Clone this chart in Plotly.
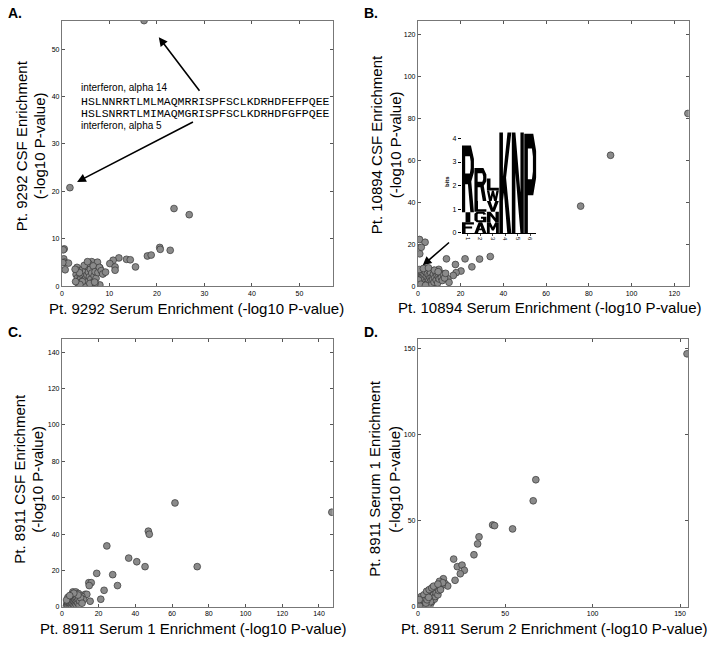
import plotly.graph_objects as go

W, H = 714, 646

# ---------------- data ----------------
# Panel A: Pt. 9292 serum vs CSF
a_serum = [17.3, 1.7, 23.6, 26.8, 20.6, 20.7, 22.8, 0.5, 0.3, 18.0, 18.8, 12.0, 13.6, 14.4, 10.8,
           15.5, 10.1, 11.2, 11.2, 0.4, 0.6, 1.4, 0.7, 6.3, 7.5, 8.0, 8.7, 8.0, 7.0, 0.2,
           3.2, 3.5, 3.0, 3.3, 3.6, 3.4, 3.9, 4.0, 4.2, 4.1, 4.4, 4.5, 4.6, 4.8, 4.9, 5.0,
           5.1, 5.2, 5.3, 5.5, 5.6, 5.7, 5.8, 6.0, 6.1, 6.3, 6.5, 6.6, 6.8, 7.0, 7.2, 7.6,
           7.9, 8.3, 8.6, 3.7, 4.3, 3.8, 5.9, 6.9, 4.7, 5.4, 2.8, 2.9, 9.2]
a_csf = [56.0, 20.8, 16.4, 15.1, 8.2, 7.8, 7.6, 7.9, 7.7, 6.4, 6.6, 6.0, 5.7, 5.6, 5.5,
         4.1, 4.8, 4.1, 3.4, 5.8, 5.1, 4.9, 3.5, 5.2, 5.1, 3.9, 2.7, 0.3, 0.6, 5.0,
         4.0, 3.3, 2.5, 1.8, 1.2, 0.6, 2.2, 1.6, 2.8, 0.9, 3.6, 2.0, 1.3, 2.6, 0.5, 3.2,
         1.8, 4.2, 2.4, 1.1, 3.0, 4.8, 2.0, 3.6, 1.5, 2.8, 0.8, 4.3, 2.2, 3.1, 1.7, 2.9,
         4.0, 3.3, 2.6, 2.9, 1.0, 0.4, 0.6, 0.9, 4.4, 5.2, 3.6, 1.0, 3.0]

# Panel B: Pt. 10894 serum vs CSF
b_serum = [126.4, 90.2, 76.2, 0.8, 3.4, 1.6, 0.9, 13.4, 22.1, 28.9, 33.9, 17.6, 25.3, 20.2,
           17.9, 16.6, 14.0, 14.6, 4.4, 9.8, 7.5, 11.7,
           0.5, 0.8, 1.0, 1.2, 1.5, 1.8, 2.0, 2.2, 2.5, 2.8, 3.0, 3.2, 3.5, 3.8, 4.0, 4.3,
           4.5, 4.8, 5.0, 5.3, 5.5, 5.8, 6.0, 6.3, 6.5, 6.8, 7.0, 7.3, 7.6, 8.0, 8.3, 8.6,
           9.0, 9.3, 9.6, 10.0, 10.5, 11.0, 11.5, 12.0, 12.5, 13.0, 0.3, 0.6, 2.6, 1.4, 3.6,
           5.0, 7.8, 9.5]
b_csf = [82.3, 62.4, 38.2, 22.3, 21.0, 18.6, 15.5, 13.1, 13.1, 13.0, 14.2, 10.4, 9.3, 7.3,
         6.5, 5.2, 3.6, 1.9, 8.4, 8.1, 7.6, 6.0,
         5.5, 4.2, 6.8, 3.5, 7.5, 5.0, 2.8, 6.2, 4.5, 1.8, 5.8, 3.2, 7.0, 2.2, 4.8, 1.2,
         6.0, 3.6, 2.5, 5.4, 1.5, 4.0, 6.5, 2.9, 0.8, 4.6, 3.3, 5.8, 2.0, 4.2, 6.8, 3.0,
         5.2, 1.6, 4.5, 3.5, 5.8, 4.2, 2.8, 5.5, 4.0, 6.2, 3.0, 8.0, 8.5, 1.0, 0.5,
         8.8, 7.7, 7.0]

# Panel C: Pt. 8911 serum 1 vs CSF
c_serum = [147.0, 61.6, 47.1, 47.6, 36.4, 40.8, 45.3, 73.7, 24.5, 19.0, 27.7, 23.0, 30.3,
           14.7, 16.0, 14.9, 21.2, 15.4, 12.7, 13.6, 10.9, 11.8, 6.0, 7.6, 9.1,
           2.5, 2.8, 3.0, 3.2, 3.5, 3.7, 4.0, 4.2, 4.4, 4.6, 4.8, 5.0, 5.2, 5.4, 5.6, 5.8,
           6.0, 6.2, 6.4, 6.6, 6.8, 7.0, 7.2, 7.4, 7.6, 7.8, 8.0, 8.3, 8.6, 9.0, 9.4, 9.8,
           10.2, 3.3, 5.5, 8.8, 2.6, 11.0, 6.5, 4.3]
c_csf = [52.0, 57.1, 41.6, 39.9, 26.8, 24.8, 22.1, 22.1, 33.5, 18.4, 17.7, 9.1, 11.7,
         13.3, 13.3, 11.7, 4.2, 3.1, 6.9, 6.9, 5.8, 4.0, 8.2, 8.2, 7.3,
         0.5, 1.5, 2.5, 0.8, 3.2, 1.8, 4.0, 0.3, 2.2, 5.0, 1.2, 3.0, 4.4, 0.6, 2.0, 5.8,
         3.5, 1.4, 4.8, 2.6, 0.9, 3.8, 6.0, 2.0, 4.6, 1.2, 3.0, 5.2, 2.2, 4.0, 1.0, 3.2,
         5.0, 5.2, 6.8, 6.5, 3.8, 2.0, 7.5, 6.2]

# Panel D: Pt. 8911 serum 2 vs serum 1
d_serum2 = [154.0, 67.5, 66.0, 42.8, 43.9, 54.2, 35.0, 34.2, 32.1, 20.5, 22.6, 25.3, 26.6,
            24.3, 21.3, 14.6, 12.4, 15.6, 17.1, 13.9,
            1.0, 1.5, 2.0, 2.5, 3.0, 3.0, 3.5, 4.0, 4.0, 4.5, 5.0, 5.0, 5.5, 6.0, 6.0, 6.5,
            7.0, 7.0, 7.5, 8.0, 8.0, 8.5, 9.0, 9.5, 10.0, 10.0, 10.5, 11.0, 11.5, 12.0, 12.5,
            13.0, 2.0, 3.5, 5.0, 6.5, 8.0, 9.0, 4.2, 5.8, 2.8, 7.2, 1.0, 3.8, 4.6, 5.3, 6.2,
            0.8, 14.2, 11.5]
d_serum1 = [146.7, 73.7, 61.5, 47.5, 47.1, 45.2, 40.6, 36.5, 30.2, 27.7, 23.3, 24.2, 21.2,
            19.2, 15.4, 16.3, 14.8, 13.5, 12.1, 12.5,
            3.0, 2.0, 4.0, 1.0, 3.0, 5.5, 2.0, 4.0, 0.5, 6.0, 3.0, 1.5, 5.0, 7.0, 2.5, 4.0,
            6.0, 1.0, 8.0, 5.0, 3.0, 9.0, 7.0, 4.5, 10.0, 6.0, 8.0, 11.0, 7.0, 9.5, 11.5,
            10.0, 6.0, 7.0, 9.0, 10.0, 11.0, 12.0, 1.2, 0.8, 0.3, 3.0, 0.5, 3.6, 2.2, 4.1, 5.5,
            4.2, 14.0, 13.2]

# Sequence logo (inset of panel B): letters bottom->top and their heights in bits
logo_positions = [1, 2, 3, 4, 5, 6]
logo_letters = [["F", "I", "R"], ["A", "G", "L", "R"], ["M", "N", "V", "W", "L"],
                ["K"], ["N"], ["P"]]
logo_bits = [[0.45, 0.42, 2.83], [0.45, 0.45, 0.45, 1.40], [0.45, 0.45, 0.45, 0.45, 0.50],
             [4.25], [4.25], [4.20]]

seq_alpha14 = "HSLNNRRTLMLMAQMRRISPFSCLKDRHDFEFPQEE"
seq_alpha5 = "HSLSNRRTLMIMAQMGRISPFSCLKDRHDFGFPQEE"

# ---------------- layout helpers ----------------
def px(x):
    return x / W


def py(y):
    return 1 - y / H


panels = [
    dict(x=a_serum, y=a_csf, dom_x=(60, 331.7), dom_y=(20.7, 287.7), rx=57.0, ry=56.0,
         dt=10, letter="A.", lx=4, ly=13,
         xt="Pt. 9292 Serum Enrichment (-log10 P-value)", xtx=195, xty=310,
         yt="Pt. 9292 CSF Enrichment", ytx1=19, ytx2=37, yty=146),
    dict(x=b_serum, y=b_csf, dom_x=(417, 688.7), dom_y=(20.7, 287.7), rx=126.8, ry=126.5,
         dt=20, letter="B.", lx=361, ly=13,
         xt="Pt. 10894 Serum Enrichment (-log10 P-value)", xtx=549, xty=309,
         yt="Pt. 10894 CSF Enrichment", ytx1=375, ytx2=394, yty=145),
    dict(x=c_serum, y=c_csf, dom_x=(60, 331.7), dom_y=(340.9, 609.7), rx=147.5, ry=147.0,
         dt=20, letter="C.", lx=4, ly=334,
         xt="Pt. 8911 Serum 1 Enrichment (-log10 P-value)", xtx=192, xty=631,
         yt="Pt. 8911 CSF Enrichment", ytx1=18, ytx2=36, yty=481),
    dict(x=d_serum2, y=d_serum1, dom_x=(417, 688.0), dom_y=(340.2, 609.7), rx=154.6, ry=155.5,
         dt=50, letter="D.", lx=361, ly=334,
         xt="Pt. 8911 Serum 2 Enrichment (-log10 P-value)", xtx=554, xty=631,
         yt="Pt. 8911 Serum 1 Enrichment", ytx1=374, ytx2=394, yty=481),
]

fig = go.Figure()
layout = dict(width=W, height=H, margin=dict(l=0, r=0, t=0, b=0),
              paper_bgcolor="white", plot_bgcolor="white", showlegend=False,
              font=dict(family="Liberation Sans, Arial, sans-serif", color="black"))
annotations = []
shapes = []

FONT = "Liberation Sans, Arial, sans-serif"
MONO = "Liberation Mono, Courier New, monospace"

for i, p in enumerate(panels):
    n = i + 1
    xa = "x" if n == 1 else f"x{n}"
    ya = "y" if n == 1 else f"y{n}"
    fig.add_trace(go.Scatter(
        x=p["x"], y=p["y"], mode="markers", xaxis=xa, yaxis=ya,
        marker=dict(size=6.8, color="rgb(138,138,138)",
                    line=dict(color="rgb(55,55,55)", width=0.7)),
        hoverinfo="x+y"))
    axcommon = dict(showgrid=False, zeroline=False, showline=True, linecolor="#777",
                    linewidth=1, mirror="ticks", ticks="inside", ticklen=3,
                    tickcolor="#555", tickwidth=1,
                    tickfont=dict(size=7, family=FONT, color="black"))
    layout["xaxis" if n == 1 else f"xaxis{n}"] = dict(
        axcommon, domain=[px(p["dom_x"][0]), px(p["dom_x"][1])], range=[0, p["rx"]],
        anchor=ya, dtick=p["dt"], tick0=0)
    layout["yaxis" if n == 1 else f"yaxis{n}"] = dict(
        axcommon, domain=[py(p["dom_y"][1]), py(p["dom_y"][0])], range=[0, p["ry"]],
        anchor=xa, dtick=p["dt"], tick0=0)
    annotations.append(dict(text="<b>" + p["letter"] + "</b>", x=px(p["lx"]), y=py(p["ly"]),
                            xref="paper", yref="paper", xanchor="left", yanchor="middle",
                            showarrow=False, font=dict(size=14, family=FONT)))
    annotations.append(dict(text=p["xt"], x=px(p["xtx"]), y=py(p["xty"]),
                            xref="paper", yref="paper", xanchor="center", yanchor="middle",
                            showarrow=False, font=dict(size=15, family=FONT)))
    annotations.append(dict(text=p["yt"], x=px(p["ytx1"]), y=py(p["yty"]), textangle=-90,
                            xref="paper", yref="paper", xanchor="center", yanchor="middle",
                            showarrow=False, font=dict(size=15, family=FONT)))
    annotations.append(dict(text="(-log10 P-value)", x=px(p["ytx2"]), y=py(p["yty"]),
                            textangle=-90, xref="paper", yref="paper", xanchor="center",
                            yanchor="middle", showarrow=False, font=dict(size=15, family=FONT)))

# Panel A annotation texts
txt_left = px(78.5)
for t, yy, fam, sz in [("interferon, alpha 14", 88.3, FONT, 10),
                       (seq_alpha14, 102.0, MONO, 11.5),
                       (seq_alpha5, 113.6, MONO, 11.5),
                       ("interferon, alpha 5", 125.9, FONT, 10)]:
    annotations.append(dict(text=t, x=txt_left, y=py(yy), xref="paper", yref="paper",
                            xanchor="left", yanchor="middle", showarrow=False, borderpad=0,
                            font=dict(size=sz, family=fam, color="black")))

# Arrows in panel A (tail near the text, head near the highlighted points)
for tip, tail in [((20.4, 52.5), (29.2, 40.9)), ((3.2, 22.0), (27.9, 34.8))]:
    annotations.append(dict(text="", x=tip[0], y=tip[1], ax=tail[0], ay=tail[1],
                            xref="x", yref="y", axref="x", ayref="y", showarrow=True,
                            arrowhead=2, arrowsize=1.1, arrowwidth=1.6, arrowcolor="black"))
# Arrow in panel B pointing at the cluster
annotations.append(dict(text="", x=2.3, y=10.0, ax=15.3, ay=21.5, xref="x2", yref="y2",
                        axref="x2", ayref="y2", showarrow=True, arrowhead=2, arrowsize=1.1,
                        arrowwidth=1.6, arrowcolor="black"))

# ---------------- sequence logo inset ----------------
GLYPHS = {
    "R": ["M0,0 L0,1 L0.75,1 L1,0.8 L1,0.6 L0.78,0.46 L1,0 L0.7,0 L0.5,0.42 L0.27,0.42 L0.27,0 Z",
          "M0.27,0.58 L0.27,0.84 L0.66,0.84 L0.73,0.76 L0.73,0.66 L0.66,0.58 Z"],
    "K": ["M0,0 L0,1 L0.3,1 L0.3,0.56 L0.68,1 L1,1 L0.56,0.55 L1,0 L0.66,0 L0.38,0.4 L0.3,0.32 L0.3,0 Z"],
    "N": ["M0,0 L0,1 L0.3,1 L0.72,0.4 L0.72,1 L1,1 L1,0 L0.72,0 L0.3,0.6 L0.3,0 Z"],
    "P": ["M0,0 L0,1 L0.75,1 L1,0.82 L1,0.56 L0.75,0.38 L0.3,0.38 L0.3,0 Z",
          "M0.3,0.54 L0.3,0.85 L0.64,0.85 L0.72,0.77 L0.72,0.62 L0.64,0.54 Z"],
    "F": ["M0,0 L0,1 L1,1 L1,0.8 L0.3,0.8 L0.3,0.6 L0.85,0.6 L0.85,0.42 L0.3,0.42 L0.3,0 Z"],
    "L": ["M0,0 L0,1 L0.3,1 L0.3,0.22 L1,0.22 L1,0 Z"],
    "I": ["M0.3,0 L0.3,1 L0.7,1 L0.7,0 Z"],
    "A": ["M0,0 L0.35,1 L0.65,1 L1,0 L0.7,0 L0.62,0.24 L0.38,0.24 L0.3,0 Z",
          "M0.43,0.42 L0.57,0.42 L0.5,0.66 Z"],
    "M": ["M0,0 L0,1 L0.3,1 L0.5,0.55 L0.7,1 L1,1 L1,0 L0.76,0 L0.76,0.6 L0.58,0.22 L0.42,0.22 L0.24,0.6 L0.24,0 Z"],
    "V": ["M0,1 L0.3,1 L0.5,0.35 L0.7,1 L1,1 L0.65,0 L0.35,0 Z"],
    "W": ["M0,1 L0.2,1 L0.3,0.4 L0.42,1 L0.58,1 L0.7,0.4 L0.8,1 L1,1 L0.82,0 L0.6,0 L0.5,0.5 L0.4,0 L0.18,0 Z"],
    "G": ["M1,0.75 L0.8,1 L0.2,1 L0,0.8 L0,0.2 L0.2,0 L1,0 L1,0.52 L0.55,0.52 L0.55,0.34 L0.72,0.34 "
          "L0.72,0.2 L0.3,0.2 L0.27,0.24 L0.27,0.76 L0.3,0.8 L0.7,0.8 L0.74,0.72 Z"],
}


def glyph_path(letter, x0, x1, y0, y1):
    out = []
    for sub in GLYPHS[letter]:
        res = []
        for tk in sub.split():
            if tk == "Z":
                res.append("Z")
                continue
            cmd = tk[0]
            u, v = tk[1:].split(",")
            X = x0 + float(u) * (x1 - x0)
            Y = y0 + float(v) * (y1 - y0)
            res.append(f"{cmd}{X:.4f},{Y:.4f}")
        out.append(" ".join(res))
    return " ".join(out)


for pos, letters, bits in zip(logo_positions, logo_letters, logo_bits):
    base = 0.0
    for L, h in zip(letters, bits):
        shapes.append(dict(type="path", path=glyph_path(L, pos - 0.48, pos + 0.48, base, base + h),
                           xref="x5", yref="y5", fillcolor="black", line=dict(width=0),
                           fillrule="evenodd", layer="above"))
        base += h

# anchor trace for the logo axes
fig.add_trace(go.Scatter(x=logo_positions, y=[0] * len(logo_positions), mode="markers",
                         marker=dict(size=1, opacity=0), xaxis="x5", yaxis="y5",
                         hoverinfo="skip"))

layout["xaxis5"] = dict(domain=[px(461), px(536)], range=[0.5, 6.5], anchor="y5",
                        showgrid=False, zeroline=False, showline=True, linecolor="black",
                        linewidth=1, ticks="outside", ticklen=2, tickvals=logo_positions,
                        tickangle=90, tickfont=dict(size=6, family=FONT))
layout["yaxis5"] = dict(domain=[py(234), py(131)], range=[0, 4.34], anchor="x5",
                        showgrid=False, zeroline=False, showline=False, ticks="outside",
                        ticklen=3, tickvals=[0, 1, 2, 3, 4], tickcolor="black",
                        tickfont=dict(size=7, family=FONT),
                        title=dict(text="<b>bits</b>", font=dict(size=6, family=FONT),
                                   standoff=2))

layout["annotations"] = annotations
layout["shapes"] = shapes
fig.update_layout(**layout)

fig.write_html("out.html", config={"displayModeBar": False},
               post_script="document.body.style.margin='0px';document.body.style.padding='0px';")
